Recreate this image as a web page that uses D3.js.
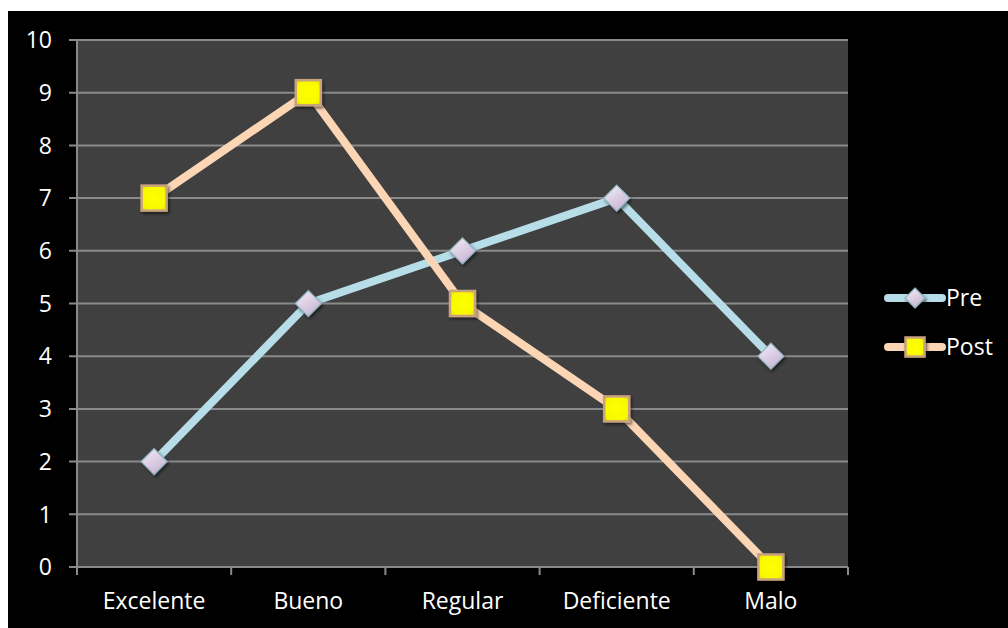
<!DOCTYPE html>
<html><head><meta charset="utf-8">
<script src="https://cdn.jsdelivr.net/npm/d3@7"></script>
<style>
html,body{margin:0;padding:0;background:#fff;}
svg{display:block;}
text{font-family:"Open Sans","Noto Sans",sans-serif;}
</style></head>
<body>
<script>
const categories = ["Excelente","Bueno","Regular","Deficiente","Malo"];
const preValues = [2,5,6,7,4];
const postValues = [7,9,5,3,0];
const yTicks = [0,1,2,3,4,5,6,7,8,9,10];
const seriesNames = ["Pre","Post"];

const W=1008,H=628;
const svg=d3.select("body").append("svg").attr("width",W).attr("height",H);
const defs=svg.append("defs");
const gd=defs.append("linearGradient").attr("id","dia").attr("x1","0").attr("y1","0").attr("x2","0.6").attr("y2","1");
gd.append("stop").attr("offset","0").attr("stop-color","#f4eef6");
gd.append("stop").attr("offset","1").attr("stop-color","#c9b6d6");
const gs=defs.append("radialGradient").attr("id","sq").attr("cx","0.5").attr("cy","0.5").attr("r","0.7");
gs.append("stop").attr("offset","0").attr("stop-color","#ffff00");
gs.append("stop").attr("offset","0.7").attr("stop-color","#f8f800");
gs.append("stop").attr("offset","1").attr("stop-color","#e0d800");
const f=defs.append("filter").attr("id","sh").attr("x","-50%").attr("y","-50%").attr("width","200%").attr("height","200%");
f.append("feDropShadow").attr("dx","1.5").attr("dy","2").attr("stdDeviation","1.5").attr("flood-color","#000").attr("flood-opacity","0.55");

svg.append("rect").attr("x",8).attr("y",11).attr("width",W-8).attr("height",H-11).attr("fill","#000");

const L=77,R=848,T=40,B=567;
const x=d3.scaleBand().domain(categories).range([L,R]).paddingInner(0).paddingOuter(0);
const y=d3.scaleLinear().domain([0,10]).range([B,T]);

svg.append("rect").attr("x",L).attr("y",T).attr("width",R-L).attr("height",B-T).attr("fill","#404040");

svg.append("g").selectAll("line").data(yTicks).join("line")
 .attr("x1",L-8).attr("x2",R).attr("y1",d=>y(d)).attr("y2",d=>y(d))
 .attr("stroke","#8a8a8a").attr("stroke-width",2);
svg.append("line").attr("x1",L).attr("x2",L).attr("y1",T).attr("y2",B).attr("stroke","#8a8a8a").attr("stroke-width",2);
const xt=categories.map(c=>x(c)).concat([R]);
svg.append("g").selectAll("line").data(xt).join("line")
 .attr("x1",d=>d).attr("x2",d=>d).attr("y1",B).attr("y2",B+8)
 .attr("stroke","#8a8a8a").attr("stroke-width",2);

svg.append("g").selectAll("text").data(yTicks).join("text")
 .attr("x",52).attr("y",d=>y(d)).attr("dy","0.36em").attr("text-anchor","end")
 .attr("fill","#fff").attr("font-size",23).text(d=>d);
svg.append("g").selectAll("text").data(categories).join("text")
 .attr("x",d=>x(d)+x.bandwidth()/2).attr("y",609).attr("text-anchor","middle")
 .attr("fill","#fff").attr("font-size",23).text(d=>d);

const cx=d=>x(d)+x.bandwidth()/2;
const line=d3.line().x((d,i)=>cx(categories[i])).y(d=>y(d));
svg.append("path").datum(preValues).attr("d",line).attr("fill","none").attr("stroke","#b7dde8").attr("stroke-width",8).attr("stroke-linejoin","round").attr("stroke-linecap","round");
svg.append("path").datum(postValues).attr("d",line).attr("fill","none").attr("stroke","#fcd5b5").attr("stroke-width",8).attr("stroke-linejoin","round").attr("stroke-linecap","round");

function diamond(g,px,py,r){
  g.append("path").attr("d",`M${px},${py-r}L${px+r},${py}L${px},${py+r}L${px-r},${py}Z`)
   .attr("fill","url(#dia)").attr("stroke","#8fb4bf").attr("stroke-width",1.2).attr("filter","url(#sh)");
}
function square(g,px,py,s){
  g.append("rect").attr("x",px-s/2).attr("y",py-s/2).attr("width",s).attr("height",s)
   .attr("fill","url(#sq)").attr("stroke","#c8a27c").attr("stroke-width",2.5).attr("filter","url(#sh)");
}
const mg=svg.append("g");
preValues.forEach((v,i)=>diamond(mg,cx(categories[i]),y(v),13));
postValues.forEach((v,i)=>square(mg,cx(categories[i]),y(v),25));

const lg=svg.append("g");
const ly=[298,347];
const lc=["#b7dde8","#fcd5b5"];
seriesNames.forEach((n,i)=>{
  lg.append("line").attr("x1",888).attr("x2",942).attr("y1",ly[i]).attr("y2",ly[i]).attr("stroke",lc[i]).attr("stroke-width",8).attr("stroke-linecap","round");
  if(i===0) diamond(lg,915,ly[i],10); else square(lg,915,ly[i],19);
  lg.append("text").attr("x",946).attr("y",ly[i]).attr("dy","0.36em").attr("fill","#fff").attr("font-size",23).text(n);
});
</script>
</body></html>
